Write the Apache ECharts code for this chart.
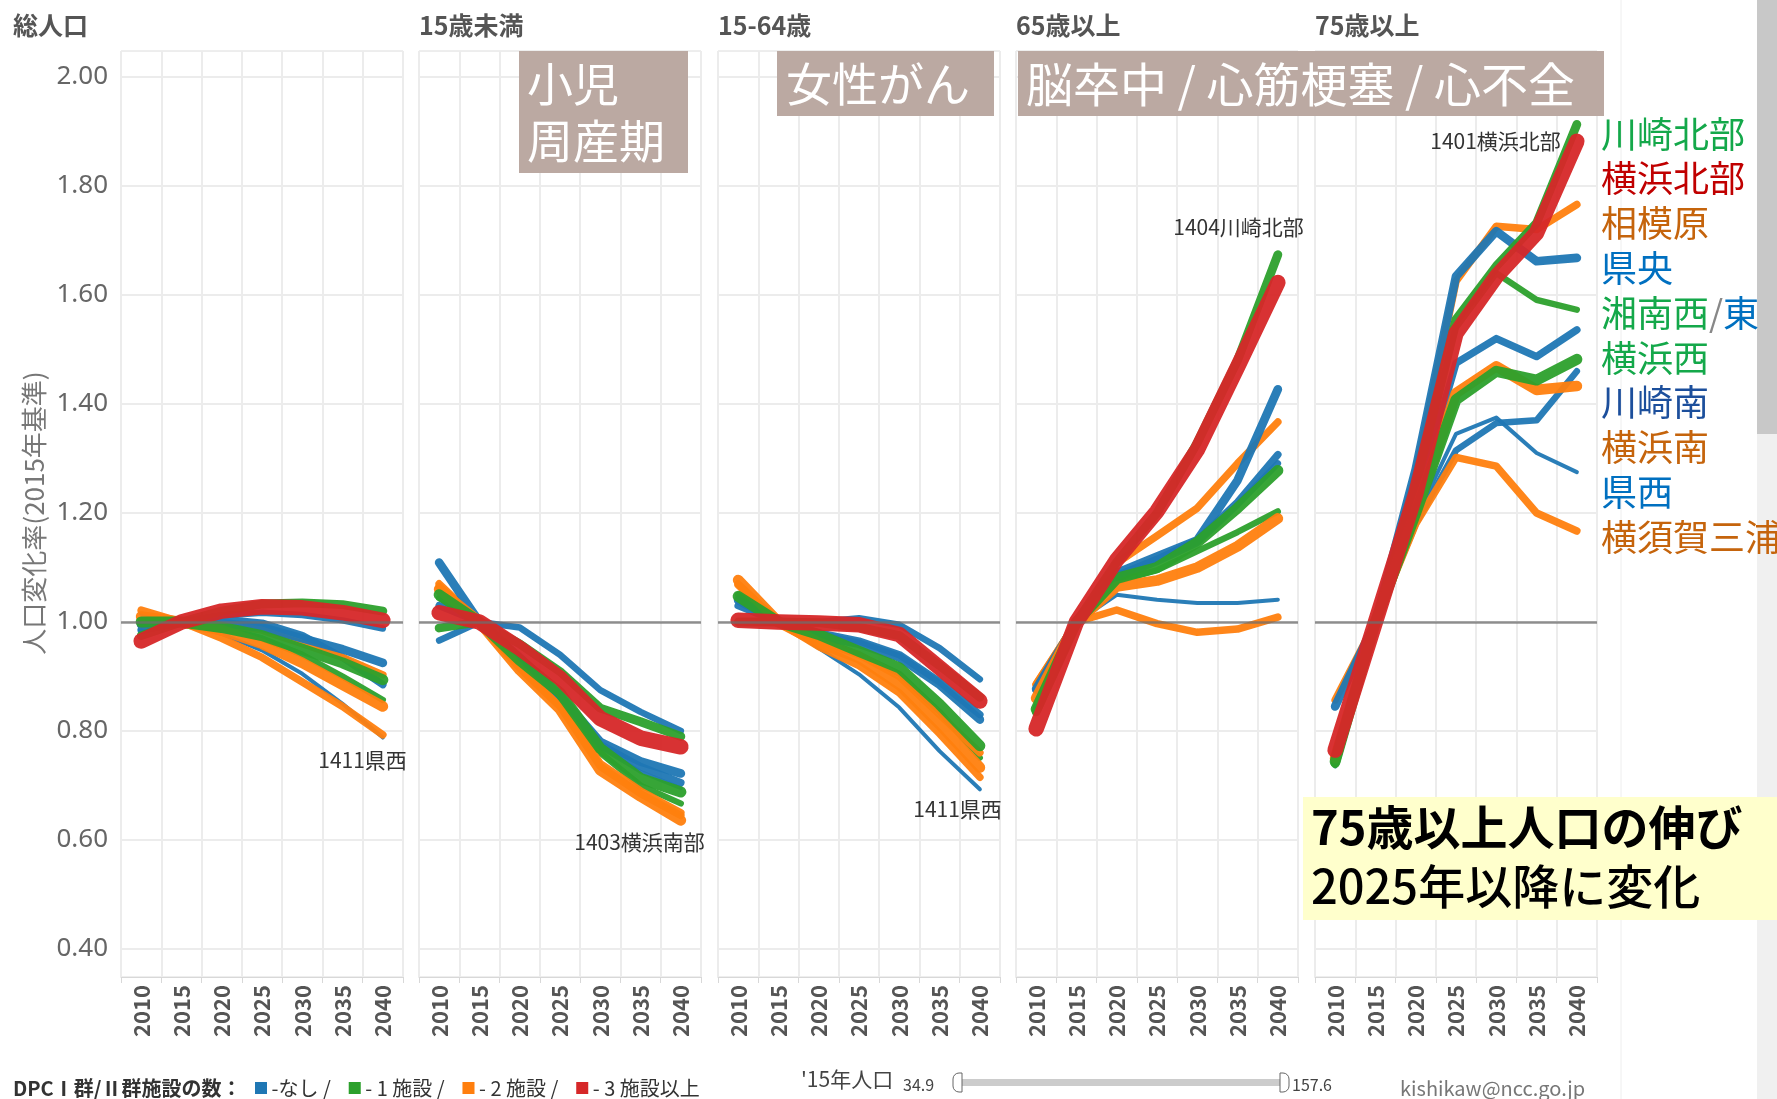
<!DOCTYPE html>
<html>
<head>
<meta charset="utf-8">
<script src="https://cdn.jsdelivr.net/npm/echarts@6/dist/echarts.min.js"></script>
<style>
  html, body { margin: 0; padding: 0; background: #fff; }
  #main { width: 1777px; height: 1099px; }
</style>
</head>
<body>
<div id="main"></div>
<script>
  // 年次・パネル
  const years = ['2010', '2015', '2020', '2025', '2030', '2035', '2040'];
  const panelNames = ['総人口', '15歳未満', '15-64歳', '65歳以上', '75歳以上'];

  // 神奈川県 二次医療圏 (横浜北部は最後 = 一番上に描く)
  const regions = ['県西', '川崎南部', '湘南西部', '湘南東部', '横須賀三浦', '相模原', '県央', '川崎北部', '横浜南部', '横浜西部', '横浜北部'];
  const codes   = ['1411', '1405', '1408', '1407', '1406', '1410', '1409', '1404', '1403', '1402', '1401'];
  const dpcCount = [0, 0, 1, 0, 2, 2, 0, 1, 2, 1, 3];   // 0:なし 1:1施設 2:2施設 3:3施設以上
  const pop2015 = [34.9, 61.5, 58.9, 71.7, 72.3, 72.1, 84.9, 86.5, 106.4, 109.6, 157.6]; // '15年人口(万人)

  // 人口変化率(2015年基準) 行 = regions の順
  const popTotal = [
    [1.015, 1, 0.978, 0.948, 0.905, 0.850, 0.788],
    [0.985, 1, 1.012, 1.017, 1.013, 1.003, 0.988],
    [1.003, 1, 0.990, 0.970, 0.940, 0.900, 0.857],
    [0.985, 1, 1.005, 0.998, 0.975, 0.935, 0.885],
    [1.022, 1, 0.970, 0.935, 0.890, 0.845, 0.793],
    [0.995, 1, 0.997, 0.985, 0.960, 0.935, 0.903],
    [0.995, 1, 0.998, 0.990, 0.970, 0.950, 0.925],
    [0.975, 1, 1.020, 1.033, 1.035, 1.032, 1.020],
    [1.010, 1, 0.985, 0.960, 0.925, 0.885, 0.845],
    [1.000, 1, 0.990, 0.975, 0.950, 0.925, 0.894],
    [0.965, 1, 1.020, 1.028, 1.026, 1.017, 1.003]
  ];
  const popUnder15 = [
    [1.060, 1, 0.930, 0.860, 0.770, 0.725, 0.695],
    [0.966, 1, 0.990, 0.940, 0.875, 0.835, 0.800],
    [1.044, 1, 0.925, 0.860, 0.760, 0.700, 0.667],
    [1.030, 1, 0.935, 0.866, 0.775, 0.735, 0.705],
    [1.070, 1, 0.915, 0.845, 0.735, 0.685, 0.645],
    [1.065, 1, 0.920, 0.850, 0.740, 0.690, 0.650],
    [1.109, 1, 0.935, 0.865, 0.780, 0.744, 0.722],
    [0.989, 1, 0.960, 0.909, 0.842, 0.817, 0.790],
    [1.060, 1, 0.912, 0.840, 0.728, 0.680, 0.636],
    [1.050, 1, 0.930, 0.870, 0.768, 0.713, 0.688],
    [1.017, 1, 0.952, 0.897, 0.823, 0.787, 0.771]
  ];
  const pop15to64 = [
    [1.045, 1, 0.952, 0.904, 0.843, 0.763, 0.693],
    [1.000, 1, 1.000, 1.007, 0.995, 0.952, 0.895],
    [1.050, 1, 0.970, 0.940, 0.905, 0.835, 0.751],
    [1.030, 1, 0.980, 0.965, 0.940, 0.890, 0.830],
    [1.070, 1, 0.955, 0.920, 0.870, 0.795, 0.715],
    [1.068, 1, 0.965, 0.940, 0.900, 0.830, 0.760],
    [1.040, 1, 0.975, 0.960, 0.935, 0.885, 0.821],
    [1.000, 1, 0.999, 0.990, 0.975, 0.920, 0.862],
    [1.077, 1, 0.962, 0.934, 0.885, 0.812, 0.733],
    [1.047, 1, 0.977, 0.946, 0.916, 0.849, 0.773],
    [1.003, 1, 0.998, 0.995, 0.977, 0.916, 0.855]
  ];
  const pop65over = [
    [0.890, 1, 1.050, 1.041, 1.035, 1.035, 1.041],
    [0.880, 1, 1.080, 1.110, 1.145, 1.215, 1.291],
    [0.845, 1, 1.075, 1.095, 1.130, 1.165, 1.203],
    [0.875, 1, 1.085, 1.115, 1.150, 1.220, 1.307],
    [0.885, 1, 1.022, 0.997, 0.981, 0.987, 1.009],
    [0.886, 1, 1.108, 1.158, 1.209, 1.291, 1.367],
    [0.877, 1, 1.090, 1.120, 1.150, 1.260, 1.427],
    [0.835, 1, 1.110, 1.200, 1.329, 1.480, 1.674],
    [0.860, 1, 1.065, 1.076, 1.100, 1.139, 1.190],
    [0.840, 1, 1.080, 1.100, 1.146, 1.209, 1.278],
    [0.804, 1, 1.114, 1.203, 1.316, 1.468, 1.623]
  ];
  const pop75over = [
    [0.735, 1, 1.190, 1.345, 1.375, 1.310, 1.275],
    [0.740, 1, 1.180, 1.315, 1.365, 1.370, 1.460],
    [0.740, 1, 1.240, 1.540, 1.640, 1.591, 1.573],
    [0.750, 1, 1.220, 1.475, 1.520, 1.487, 1.536],
    [0.745, 1, 1.180, 1.302, 1.286, 1.200, 1.167],
    [0.857, 1, 1.270, 1.625, 1.726, 1.720, 1.766],
    [0.845, 1, 1.280, 1.634, 1.717, 1.662, 1.668],
    [0.740, 1, 1.250, 1.555, 1.653, 1.732, 1.913],
    [0.750, 1, 1.200, 1.420, 1.469, 1.426, 1.433],
    [0.744, 1, 1.200, 1.408, 1.460, 1.444, 1.482],
    [0.765, 1, 1.235, 1.530, 1.634, 1.714, 1.882]
  ];
  const labelled = ['県西', '横浜南部', '県西', '川崎北部', '横浜北部'];

  // 右側の凡例ラベル
  const sideLabels = ['川崎北部', '横浜北部', '相模原', '県央', '湘南西/東', '横浜西', '川崎南', '横浜南', '県西', '横須賀三浦'];
  const sideColors = ['#14a84a', '#c00000', '#c5640c', '#0070c0', '#14a84a', '#14a84a', '#1c4f9c', '#c5640c', '#0070c0', '#c5640c'];

  const FONT = '"Noto Sans CJK JP", "Noto Sans", sans-serif';
  const lineColors = ['#1f77b4', '#2ca02c', '#ff7f0e', '#d62728'];
  const panelData = [popTotal, popUnder15, pop15to64, pop65over, pop75over];
  const panelLeft = [121, 419, 718, 1016, 1315];
  const panelWidth = 282;
  const labelOffset = [[16, 22], [16, 22], [14, 20], [18, -28], [-24, 0]];
  const popMin = Math.min(...pop2015), popMax = Math.max(...pop2015);
  const widthOf = p => 4 + 11.5 * (p - popMin) / (popMax - popMin);

  const grid = [], xAxis = [], yAxis = [], series = [];
  panelNames.forEach((name, p) => {
    // 枠・縦グリッド・年ラベル
    grid.push({ left: panelLeft[p], width: panelWidth, top: 51, height: 926, show: true,
      borderColor: '#dcdcdc', borderWidth: 1, backgroundColor: 'transparent', outerBoundsMode: 'none' });
    xAxis.push({ type: 'category', gridIndex: 2 * p, data: years, boundaryGap: true,
      axisLine: { lineStyle: { color: '#d8d8d8' } },
      axisTick: { show: true, length: 6, lineStyle: { color: '#d8d8d8' } },
      splitLine: { show: true, lineStyle: { color: '#ececec', width: 2 } },
      axisLabel: { rotate: 90, margin: 8, fontSize: 22, fontWeight: 'bold', color: '#555', fontFamily: FONT, interval: 0 } });
    yAxis.push({ type: 'value', gridIndex: 2 * p, min: 0, max: 1, show: false });

    // データ
    grid.push({ left: panelLeft[p], width: panelWidth, top: 77, height: 872, outerBoundsMode: 'none' });
    xAxis.push({ type: 'category', gridIndex: 2 * p + 1, data: years, boundaryGap: true, show: false });
    yAxis.push({ type: 'value', gridIndex: 2 * p + 1, min: 0.4, max: 2.0, interval: 0.2,
      axisLine: { show: false }, axisTick: { show: false },
      splitLine: { lineStyle: { color: '#ececec', width: 2 } },
      axisLabel: { show: p === 0, formatter: v => v.toFixed(2), fontSize: 26, color: '#666', margin: 13, fontFamily: '"Noto Sans", sans-serif' },
      name: p === 0 ? '人口変化率(2015年基準)' : '', nameLocation: 'middle', nameGap: 74,
      nameTextStyle: { fontSize: 26, color: '#777', fontFamily: FONT } });

    regions.forEach((r, i) => {
      const s = {
        type: 'line', name: r, xAxisIndex: 2 * p + 1, yAxisIndex: 2 * p + 1,
        data: panelData[p][i], symbol: 'none', silent: true,
        lineStyle: { color: lineColors[dpcCount[i]], width: widthOf(pop2015[i]), cap: 'round', join: 'round', opacity: 0.95 }
      };
      if (r === labelled[p]) {
        s.endLabel = { show: true, formatter: codes[i] + r, align: 'right', verticalAlign: 'middle',
          offset: labelOffset[p], fontSize: 21, color: '#333', fontFamily: FONT };
      }
      if (i === regions.length - 1) {
        s.markLine = { silent: true, symbol: 'none', label: { show: false },
          lineStyle: { color: 'rgba(110,110,110,0.75)', width: 2.5, type: 'solid' },
          data: [{ yAxis: 1 }] };
      }
      series.push(s);
    });
  });

  const titles = panelNames.map((t, p) => ({
    type: 'text', z: 50,
    style: { text: t, x: p === 0 ? 13 : panelLeft[p], y: 25, textVerticalAlign: 'middle',
      font: 'bold 25px ' + FONT, fill: '#555' }
  }));

  const boxStyle = '#bba9a2';
  const notes = [
    { type: 'rect', z: 60, shape: { x: 519, y: 51, width: 169, height: 122 }, style: { fill: boxStyle } },
    { type: 'text', z: 61, style: { text: '小児', x: 527, y: 84, textVerticalAlign: 'middle', font: '46px ' + FONT, fill: '#fff' } },
    { type: 'text', z: 61, style: { text: '周産期', x: 527, y: 141, textVerticalAlign: 'middle', font: '46px ' + FONT, fill: '#fff' } },
    { type: 'rect', z: 60, shape: { x: 777, y: 51, width: 217, height: 65 }, style: { fill: boxStyle } },
    { type: 'text', z: 61, style: { text: '女性がん', x: 786, y: 84, textVerticalAlign: 'middle', font: '46px ' + FONT, fill: '#fff' } },
    { type: 'rect', z: 60, shape: { x: 1018, y: 51, width: 586, height: 65 }, style: { fill: boxStyle } },
    { type: 'text', z: 61, style: { text: '脳卒中 / 心筋梗塞 / 心不全', x: 1026, y: 84, textVerticalAlign: 'middle', font: '47px ' + FONT, fill: '#fff' } },
    { type: 'rect', z: 60, shape: { x: 1303, y: 797, width: 474, height: 123 }, style: { fill: '#ffffcc' } },
    { type: 'text', z: 61, style: { text: '75歳以上人口の伸び', x: 1311, y: 827, textVerticalAlign: 'middle', font: 'bold 47px ' + FONT, fill: '#000' } },
    { type: 'text', z: 61, style: { text: '2025年以降に変化', x: 1311, y: 886, textVerticalAlign: 'middle', font: '500 47px ' + FONT, fill: '#000' } }
  ];

  const side = sideLabels.map((t, k) => {
    const st = { x: 1601, y: 134 + k * 44.8, textVerticalAlign: 'middle', font: '36px ' + FONT, fill: sideColors[k] };
    if (t.indexOf('/') >= 0) {
      const parts = t.split('/');
      st.text = '{a|' + parts[0] + '}{s|/}{b|' + parts[1] + '}';
      st.rich = {
        a: { fill: '#14a84a', font: '36px ' + FONT },
        s: { fill: '#888', font: '36px ' + FONT },
        b: { fill: '#0070c0', font: '36px ' + FONT }
      };
    } else {
      st.text = t;
    }
    return { type: 'text', z: 70, style: st };
  });

  const chrome = [
    { type: 'rect', z: 1, shape: { x: 1757, y: 0, width: 20, height: 1099 }, style: { fill: '#f0f0f0' } },
    { type: 'rect', z: 2, shape: { x: 1757, y: 0, width: 20, height: 434 }, style: { fill: '#c8c8c8' } },
    { type: 'line', z: 1, shape: { x1: 1621, y1: 0, x2: 1621, y2: 1099 }, style: { stroke: '#eeeeee', lineWidth: 1 } },
    { type: 'text', z: 50, style: {
      text: '{b|DPCⅠ群/Ⅱ群施設の数：}{s0|■}{t|-なし / }{s1|■}{t|- 1 施設 / }{s2|■}{t|- 2 施設 / }{s3|■}{t|- 3 施設以上}',
      x: 13, y: 1088, textVerticalAlign: 'middle',
      rich: {
        b: { font: 'bold 20px ' + FONT, fill: '#333' },
        t: { font: '20px ' + FONT, fill: '#333' },
        s0: { font: '15px ' + FONT, fill: lineColors[0], padding: [0, 3, 0, 12] },
        s1: { font: '15px ' + FONT, fill: lineColors[1], padding: [0, 3, 0, 12] },
        s2: { font: '15px ' + FONT, fill: lineColors[2], padding: [0, 3, 0, 12] },
        s3: { font: '15px ' + FONT, fill: lineColors[3], padding: [0, 3, 0, 12] }
      } } },
    { type: 'text', z: 50, style: { text: "'15年人口", x: 801, y: 1079, textVerticalAlign: 'middle', font: '21px ' + FONT, fill: '#444' } },
    { type: 'text', z: 50, style: { text: String(popMin), x: 903, y: 1085, textVerticalAlign: 'middle', font: '16px ' + FONT, fill: '#444' } },
    { type: 'rect', z: 50, shape: { x: 962, y: 1079, width: 320, height: 7 }, style: { fill: '#cccccc' } },
    { type: 'rect', z: 51, shape: { x: 953, y: 1073, width: 9, height: 19, r: [6, 0, 0, 6] }, style: { fill: '#fff', stroke: '#666', lineWidth: 1 } },
    { type: 'rect', z: 51, shape: { x: 1280, y: 1073, width: 9, height: 19, r: [0, 6, 6, 0] }, style: { fill: '#fff', stroke: '#666', lineWidth: 1 } },
    { type: 'text', z: 50, style: { text: String(popMax), x: 1292, y: 1085, textVerticalAlign: 'middle', font: '16px ' + FONT, fill: '#444' } },
    { type: 'text', z: 50, style: { text: 'kishikaw@ncc.go.jp', x: 1400, y: 1088, textVerticalAlign: 'middle', font: '20px ' + FONT, fill: '#777' } }
  ];

  const chart = echarts.init(document.getElementById('main'));
  chart.setOption({
    backgroundColor: '#fff',
    animation: false,
    textStyle: { fontFamily: FONT },
    grid: grid,
    xAxis: xAxis,
    yAxis: yAxis,
    series: series,
    graphic: { elements: chrome.concat(titles, notes, side) }
  });
</script>
</body>
</html>
